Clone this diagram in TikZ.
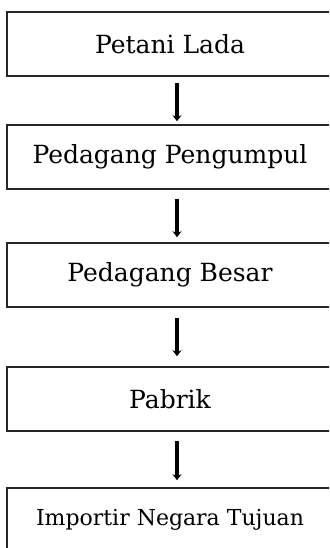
\documentclass[tikz,border=0pt]{standalone}
\usepackage{fontspec}
\setmainfont{DejaVu Serif}
\usetikzlibrary{arrows.meta,calc}
\begin{document}
\begin{tikzpicture}[x=1pt,y=-1pt,
  stage/.style={draw=black!85,line width=1.6pt,minimum width=326pt,minimum height=64pt,
    inner sep=0pt,font=\fontsize{25}{30}\selectfont,text=black},
  flow/.style={line width=3.6pt,-{Stealth[length=6pt,width=9pt]}}]
  \useasboundingbox (0,0) rectangle (329,548);
  \clip (0,0) rectangle (329,548);
  % chain of stages
  \node[stage] (b1) at (170,44)  {Petani Lada};
  \node[stage] (b2) at (170,157) {Pedagang Pengumpul};
  \node[stage] (b3) at (170,275) {Pedagang Besar};
  \node[stage] (b4) at (170,399) {Pabrik};
  \node[stage,font=\fontsize{22}{26}\selectfont] (b5) at (170,520) {Importir Negara Tujuan};
  % arrows between stages
  \draw[flow] ($(b1.south)+(7,6)$)  -- ($(b2.north)+(7,-3)$);
  \draw[flow] ($(b2.south)+(7,9)$)  -- ($(b3.north)+(7,-5)$);
  \draw[flow] ($(b3.south)+(7,10)$) -- ($(b4.north)+(7,-10)$);
  \draw[flow] ($(b4.south)+(7,9)$)  -- ($(b5.north)+(7,-7)$);
\end{tikzpicture}
\end{document}
